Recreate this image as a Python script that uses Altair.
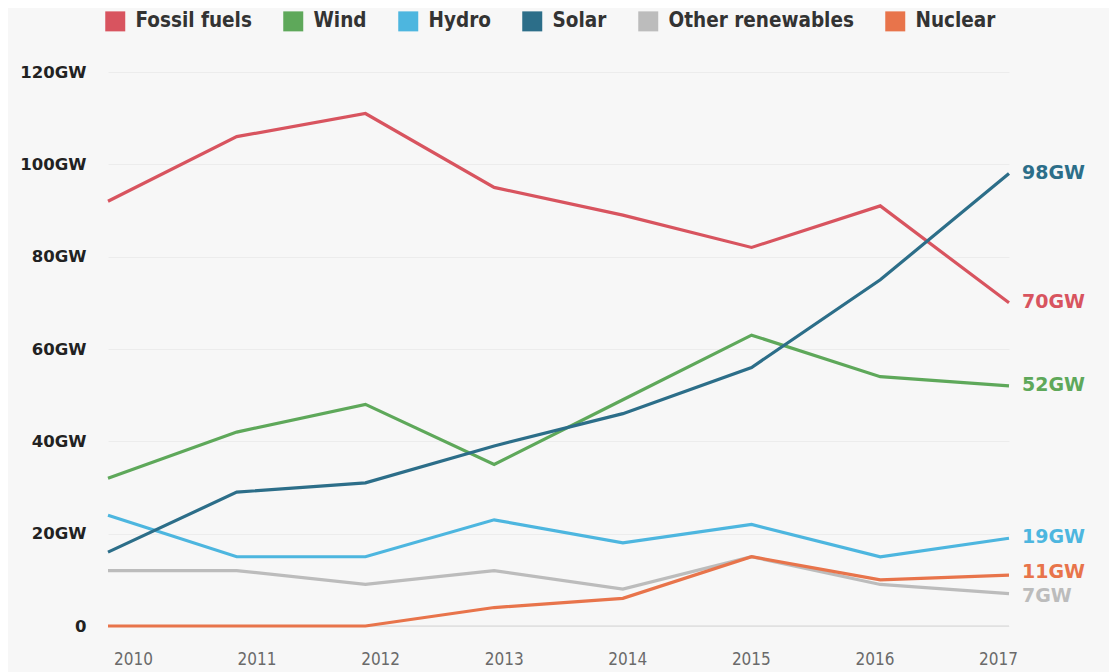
import altair as alt
import pandas as pd

years = [2010, 2011, 2012, 2013, 2014, 2015, 2016, 2017]
series_names = ["Fossil fuels", "Wind", "Hydro", "Solar", "Other renewables", "Nuclear"]
series_colors = ["#d8545f", "#5ea85a", "#4db6df", "#2c6e89", "#bcbcbc", "#e8744b"]

fossil = [92, 106, 111, 95, 89, 82, 91, 70]
wind = [32, 42, 48, 35, 49, 63, 54, 52]
hydro = [24, 15, 15, 23, 18, 22, 15, 19]
solar = [16, 29, 31, 39, 46, 56, 75, 98]
other = [12, 12, 9, 12, 8, 15, 9, 7]
nuclear = [0, 0, 0, 4, 6, 15, 10, 11]

y_ticks = [0, 20, 40, 60, 80, 100, 120]

values = [fossil, wind, hydro, solar, other, nuclear]
rows = []
for name, vals in zip(series_names, values):
    for yr, v in zip(years, vals):
        rows.append({"year": yr, "value": v, "series": name, "label": f"{v}GW"})
df = pd.DataFrame(rows)
last = df[df["year"] == years[-1]]

color_scale = alt.Scale(domain=series_names, range=series_colors)
color = alt.Color(
    "series:N",
    scale=color_scale,
    legend=alt.Legend(
        title=None,
        orient="none",
        direction="horizontal",
        legendX=-3,
        legendY=-61,
        symbolType="square",
        symbolSize=400,
        symbolStrokeWidth=0,
        symbolOpacity=1,
        labelFont="DejaVu Sans Condensed, DejaVu Sans",
        labelFontSize=20.5,
        labelFontWeight="bold",
        labelColor="#333333",
        labelOffset=10,
        columnPadding=31,
        labelLimit=400,
        padding=0,
    ),
)

x_main = alt.X("year:Q", scale=alt.Scale(domain=[2010, 2017], nice=False, zero=False), axis=None)
y_enc = alt.Y(
    "value:Q",
    scale=alt.Scale(domain=[0, 120], nice=False),
    axis=alt.Axis(
        values=y_ticks,
        title=None,
        labelExpr="datum.value == 0 ? '0' : datum.value + 'GW'",
        labelFont="DejaVu Sans",
        labelFontWeight="bold",
        labelFontSize=16.5,
        labelColor="#222222",
        labelPadding=22,
        ticks=False,
        domain=False,
        grid=True,
        gridColor="#ececec",
        gridWidth=1,
    ),
)

base_rule = alt.Chart(pd.DataFrame({"value": [0]})).mark_rule(color="#d6d6d6", strokeWidth=1.2).encode(
    y=y_enc
)

lines = alt.Chart(df).mark_line(strokeWidth=3.2).encode(
    x=x_main,
    y=y_enc,
    color=color,
    order=alt.Order("year:Q"),
)


def end_label_layer(filter_expr, dy):
    return alt.Chart(last).transform_filter(filter_expr).mark_text(
        align="left", baseline="middle", dx=13, dy=dy,
        font="DejaVu Sans", fontWeight="bold", fontSize=19,
    ).encode(
        x=x_main,
        y=y_enc,
        text="label:N",
        color=alt.Color("series:N", scale=color_scale, legend=None),
    )


labels_main = end_label_layer("datum.series != 'Nuclear' && datum.series != 'Other renewables'", -1)
labels_nuc = end_label_layer("datum.series == 'Nuclear'", -3)
labels_oth = end_label_layer("datum.series == 'Other renewables'", 2)

main = alt.layer(base_rule, lines, labels_main, labels_nuc, labels_oth)

x_axis_layer = alt.Chart(pd.DataFrame({"year": years})).mark_point(opacity=0).encode(
    x=alt.X(
        "year:Q",
        scale=alt.Scale(domain=[2009.798, 2017.089], nice=False, zero=False),
        axis=alt.Axis(
            values=years,
            format="d",
            title=None,
            orient="bottom",
            labelFont="DejaVu Sans Condensed, DejaVu Sans",
            labelFontSize=17,
            labelColor="#6a6a6a",
            labelPadding=25,
            ticks=False,
            domain=False,
            grid=False,
        ),
    )
)

chart = alt.layer(main, x_axis_layer).resolve_scale(x="independent").properties(
    width=901,
    height=554,
    padding={"left": 100, "top": 64, "right": 100, "bottom": 46},
    autosize=alt.AutoSizeParams(type="none"),
    background="#f7f7f7",
).configure_view(stroke=None)

chart.save("out.html", embed_options={"renderer": "svg", "actions": False})
